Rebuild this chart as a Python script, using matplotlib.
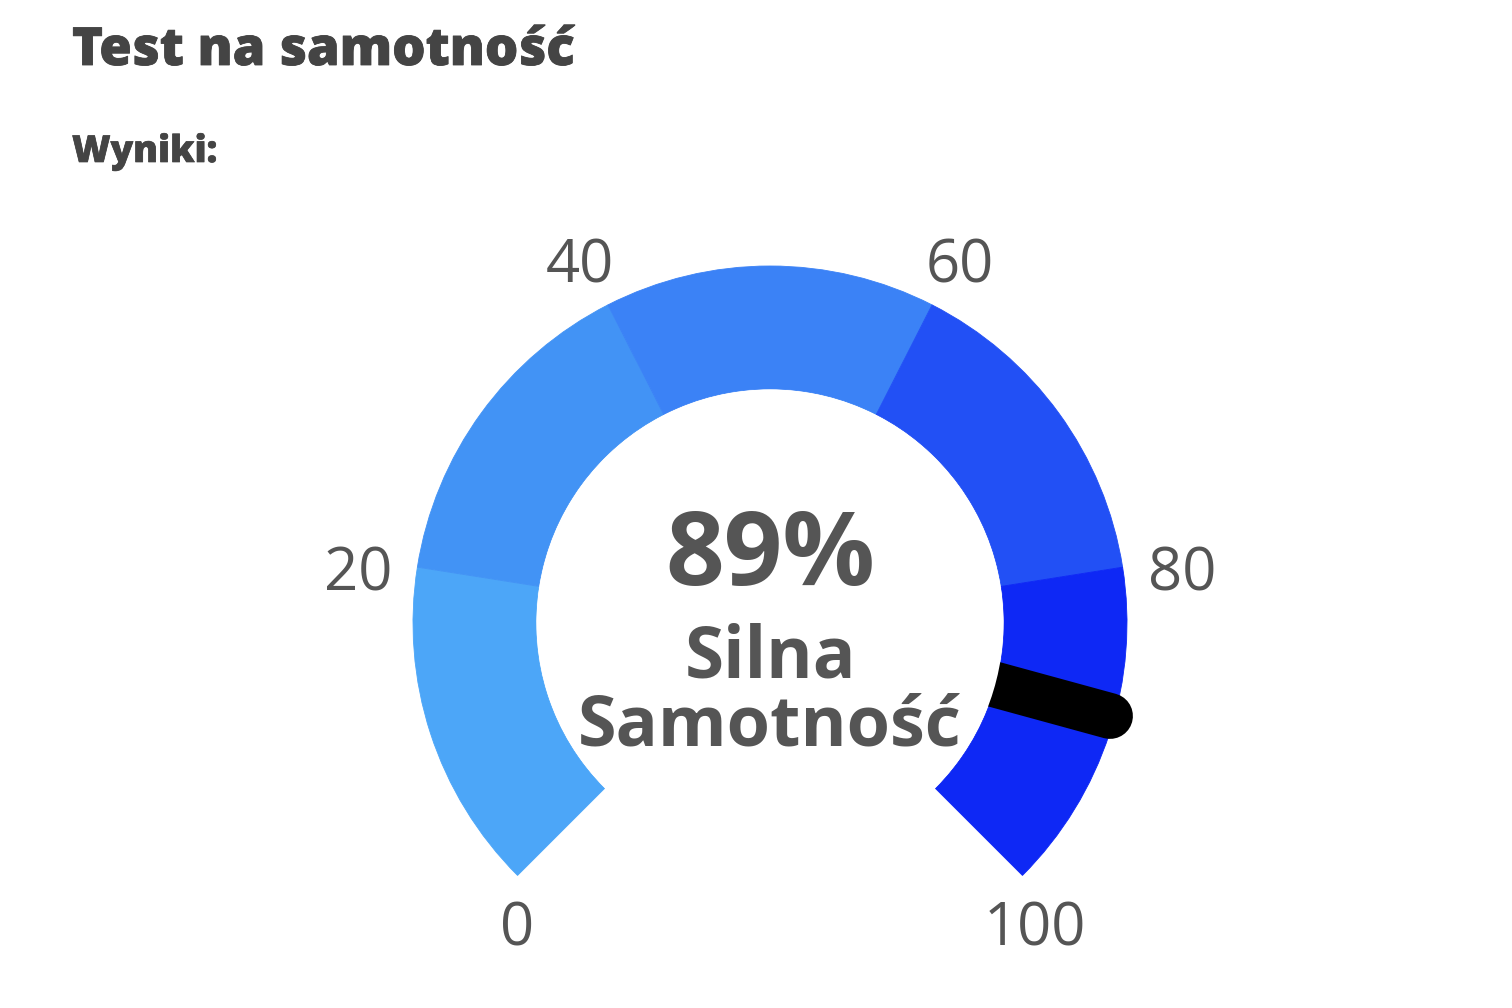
import matplotlib
matplotlib.use("Agg")
import matplotlib.pyplot as plt
from matplotlib.patches import Wedge, Circle
import matplotlib.patheffects as pe
import numpy as np

# ---------------- data ----------------
title = "Test na samotność"
subtitle = "Wyniki:"
band_edges = [0, 20, 40, 60, 80, 100]
band_colors = ["#4CA6F8", "#4293F5", "#3B82F6", "#2250F5", "#0E28F5"]
tick_values = [0, 20, 40, 60, 80, 100]
tick_labels = ["0", "20", "40", "60", "80", "100"]
value = 89
value_label = "89%"
category_lines = ["Silna", "Samotność"]

# ---------------- layout ----------------
W, H = 1512, 1008
fig = plt.figure(figsize=(W / 100, H / 100), dpi=100)
ax = fig.add_axes([0, 0, 1, 1])
ax.set_xlim(0, W)
ax.set_ylim(H, 0)  # pixel-like coordinates, y down
ax.axis("off")

cx, cy = 770, 623
R_out, R_in = 357, 234
START, SPAN = 225.0, 270.0
vmin, vmax = band_edges[0], band_edges[-1]


def phi(v):
    return START - SPAN * (v - vmin) / (vmax - vmin)


def pt(v, r):
    a = np.radians(phi(v))
    return cx + r * np.cos(a), cy - r * np.sin(a)


# bands (data angles are mirrored because y axis is inverted)
for lo, hi, col in zip(band_edges[:-1], band_edges[1:], band_colors):
    ax.add_patch(Wedge((cx, cy), R_out, -phi(lo), -phi(hi), width=R_out - R_in,
                       facecolor=col, edgecolor=col, linewidth=0.6, zorder=1))

# needle
x0, y0 = pt(value, 190)
x1, y1 = pt(value, 352.5)
ax.plot([x0, x1], [y0, y1], color="black", linewidth=33,
        solid_capstyle="round", zorder=2)
ax.add_patch(Circle((cx, cy), R_in - 0.5, facecolor="white", edgecolor="none", zorder=3))

# tick labels
tick_font = dict(family="Open Sans", fontsize=43, color="#555555", zorder=5)
for v, lab in zip(tick_values, tick_labels):
    px, py = pt(v, R_out)
    a = np.radians(phi(v))
    c, s = np.cos(a), np.sin(a)
    if s < -0.5:  # bottom labels
        shift = 12 if c > 0 else -1
        ax.text(px + shift, py + 24, lab, ha="center", va="top", **tick_font)
    elif abs(c) > 0.9:  # side labels
        ax.text(px - 25 if c < 0 else px + 25, py + 23, lab,
                ha="right" if c < 0 else "left", va="baseline", **tick_font)
    else:  # upper labels
        ax.text(px + 6 if c < 0 else px - 6, py - 22, lab,
                ha="right" if c < 0 else "left", va="baseline", **tick_font)

# centre texts
ax.text(cx, 585, value_label, ha="center", va="baseline", family="Open Sans",
        fontweight="bold", fontsize=74, color="#555555", zorder=5)
ax.text(cx, 677, category_lines[0], ha="center", va="baseline", family="Open Sans",
        fontweight="bold", fontsize=51, color="#555555", zorder=5)
ax.text(cx, 745, category_lines[1], ha="center", va="baseline", family="Open Sans",
        fontweight="bold", fontsize=50.5, color="#555555", zorder=5)

# titles, fitted to the reference width
renderer = fig.canvas.get_renderer()


def fitted_text(x, y, s, target_w, size, stroke, **kw):
    t = ax.text(x, y, s, ha="left", va="baseline", fontsize=size, **kw)
    w = t.get_window_extent(renderer).width
    t.set_fontsize(size * target_w / w)
    if stroke:
        t.set_path_effects([pe.withStroke(linewidth=stroke, foreground=kw.get("color"))])
    return t


fitted_text(72, 65, title, 503, 38, 0.6, family="Open Sans", fontweight="heavy",
            color="#444444")
fitted_text(72, 162, subtitle, 145, 28, 0.5, family="Open Sans", fontweight="heavy",
            color="#444444")

fig.savefig("out.png", dpi=100, facecolor="white")
